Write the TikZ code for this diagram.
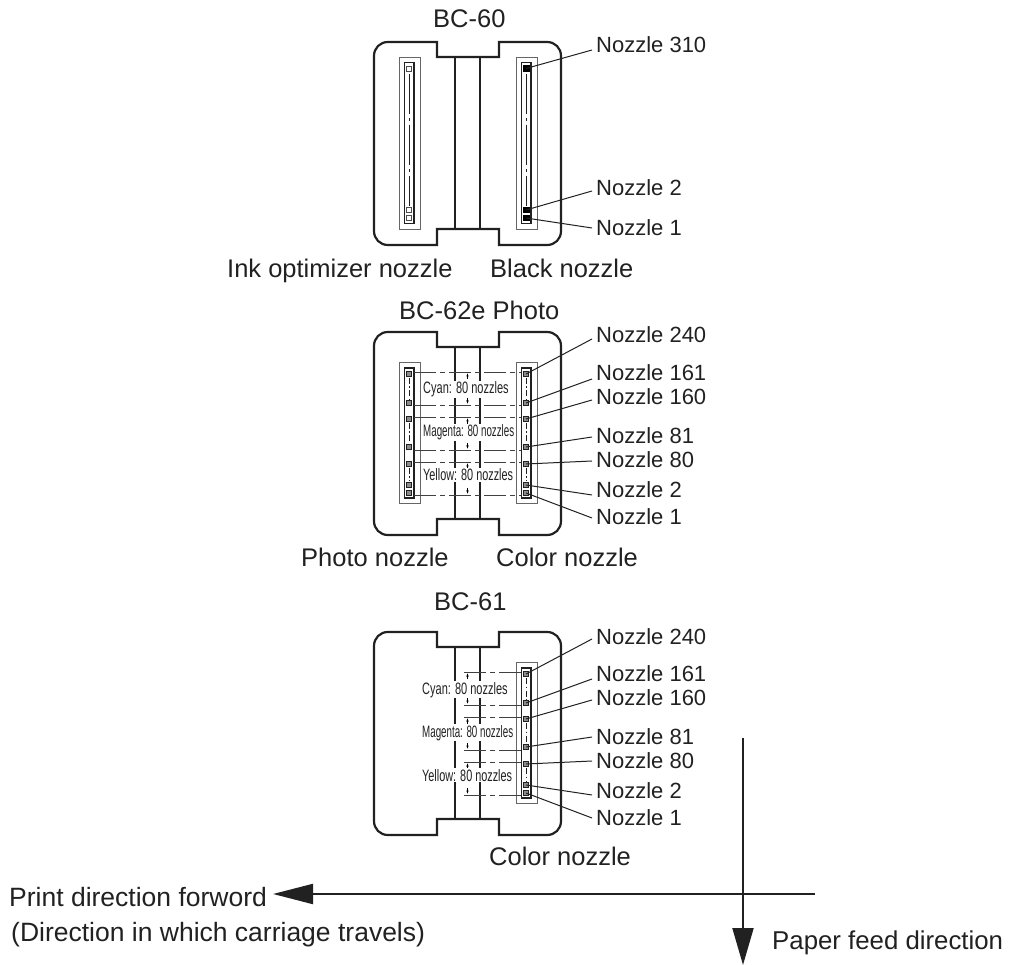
\documentclass[tikz,border=0pt]{standalone}
\usepackage{fontspec}
\setmainfont{Liberation Sans}
\usetikzlibrary{arrows.meta}
\definecolor{inkc}{gray}{0.13}
\tikzset{
  shell/.style={line width=2.2pt,draw=inkc},
  mid/.style={line width=1.3pt,draw=inkc},
  lead/.style={line width=1pt,draw=inkc},
  outerbox/.style={line width=.9pt,draw=black!60},
  innerbox/.style={line width=1.6pt,draw=inkc},
  cl/.style={line width=.8pt,draw=inkc,dash pattern=on 40pt off 4pt on 3pt off 4pt},
  cls/.style={line width=.8pt,draw=inkc,dash pattern=on 6pt off 2.5pt on 1.5pt off 2.5pt},
  hd/.style={line width=.9pt,draw=black!75,dash pattern=on 22pt off 4pt on 5pt off 4pt},
  lab/.style={inner sep=0pt,anchor=base west,text=inkc,font=\fontsize{22}{26}\selectfont},
  captxt/.style={inner sep=0pt,anchor=base west,text=inkc,font=\fontsize{25.5}{30}\selectfont},
  dirtxt/.style={inner sep=0pt,anchor=base west,text=inkc,font=\fontsize{26.5}{30}\selectfont},
  smalltxt/.style={inner sep=1pt,anchor=base west,fill=white,text=inkc,font=\fontsize{16.5}{18}\selectfont},
  nz/.style={draw=inkc,line width=.6pt,fill=black!45,minimum size=5pt,inner sep=0pt},
  nzb/.style={draw=black,line width=.5pt,fill=black,minimum size=5.5pt,inner sep=0pt},
  nzw/.style={draw=black!70,line width=.8pt,fill=white,minimum size=5pt,inner sep=0pt},
  ticka/.style={line width=.6pt,draw=black,-{Latex[length=3.5pt,width=2.5pt]}},
}
\newcommand{\shellat}[1]{%
  \draw[shell] (388,#1+42) .. controls (380,#1+42) and (374,#1+48) .. (374,#1+56) -- (374,#1+231)
    .. controls (374,#1+239) and (380,#1+245) .. (388,#1+245) -- (437,#1+245) -- (437,#1+229) -- (499,#1+229) -- (499,#1+245) -- (547,#1+245)
    .. controls (555,#1+245) and (561,#1+239) .. (561,#1+231) -- (561,#1+56)
    .. controls (561,#1+48) and (555,#1+42) .. (547,#1+42) -- (499,#1+42) -- (499,#1+57) -- (437,#1+57) -- (437,#1+42) -- cycle;
}
\begin{document}
\begin{tikzpicture}[x=1pt,y=-1pt]
\useasboundingbox (0,0) rectangle (1013,965);
% ---------- BC-60
\shellat{0}
\draw[mid] (455,57) -- (455,229) (480,57) -- (480,229);
\draw[outerbox] (399,57) rectangle (420,229) (516,57) rectangle (537,229);
\draw[innerbox] (404.5,62.5) rectangle (414,223.5) (521.5,62.5) rectangle (531,223.5);
\draw[cl] (409,74) -- (409,206);
\draw[cl] (526,74) -- (526,206);
\node[nzw] (a1) at (409,68.5) {};
\node[nzw] (a2) at (409,210) {};
\node[nzw] (a3) at (409,218) {};
\node[nzb] (b310) at (526,68.5) {};
\node[nzb] (b2) at (526,210) {};
\node[nzb] (b1) at (526,218) {};
\node[captxt] (t60) at (433,28) {BC-60};
\node[lab] (l310) at (596,53) {Nozzle 310};
\node[lab] (l2) at (596,196) {Nozzle 2};
\node[lab] (l1) at (596,236) {Nozzle 1};
\coordinate (e310) at (592,50);\coordinate (e2) at (592,191);\coordinate (e1) at (592,228);
\draw[lead] (b310.center) -- (e310) (b2.center) -- (e2) (b1.center) -- (e1);
\node[captxt] (cInk) at (227,278) {Ink optimizer nozzle};
\node[captxt] (cBlk) at (490,278) {Black nozzle};
% ---------- BC-62e
\shellat{290}
\draw[mid] (455,347) -- (455,519) (480,347) -- (480,519);
\draw[outerbox] (399,362) rectangle (420,503) (516,362) rectangle (537,503);
\draw[innerbox] (404.5,368) rectangle (414,498) (521.5,368) rectangle (531,498);
\foreach \y/\z in {378/400,423/443,468/481}{
  \draw[cls] (409,\y) -- (409,\z);
  \draw[cls] (526,\y) -- (526,\z);
}
\foreach \y in {372,405,417,450,462,495}{
  \draw[hd] (414,\y) -- (521,\y);
}
\foreach \y/\s in {372/1,405/-1,417/1,450/-1,462/1,495/-1}{
  \draw[ticka] (467.5,\y+\s*7) -- (467.5,\y+\s*1);
}
\foreach \n/\y in {1/374,2/403,3/419,4/447,5/464,6/485,7/493}{
  \node[nz] (p\n) at (409,\y) {};
  \node[nz] (q\n) at (526,\y) {};
}
\node[smalltxt] (s1) at (422,394) {\scalebox{.667}[1]{Cyan: 80 nozzles}};
\node[smalltxt] (s2) at (422,437) {\scalebox{.592}[1]{Magenta: 80 nozzles}};
\node[smalltxt] (s3) at (422,481) {\scalebox{.658}[1]{Yellow: 80 nozzles}};
\node[captxt] (t62) at (399,320) {BC-62e Photo};
\foreach \n/\t/\y/\e in {1/240/343/339,2/161/381/379,3/160/405/400,4/81/444/437,5/80/468/461,6/2/498/495,7/1/525/518}{
  \node[lab] (m\n) at (596,\y) {Nozzle \t};
  \coordinate (f\n) at (592,\e);
  \draw[lead] (q\n.center) -- (f\n);
}
\node[captxt] (cPh) at (301,567) {Photo nozzle};
\node[captxt] (cCo) at (496,567) {Color nozzle};
% ---------- BC-61
\shellat{590}
\draw[mid] (455,647) -- (455,819) (480,647) -- (480,819);
\draw[outerbox] (516,662) rectangle (537,803);
\draw[innerbox] (521.5,668) rectangle (531,798);
\foreach \y/\z in {678/700,723/743,768/781}{
  \draw[cls] (526,\y) -- (526,\z);
}
\foreach \y in {672,705,717,750,762,795}{
  \draw[hd] (464,\y) -- (521,\y);
}
\foreach \y/\s in {672/1,705/-1,717/1,750/-1,762/1,795/-1}{
  \draw[ticka] (467.5,\y+\s*7) -- (467.5,\y+\s*1);
}
\foreach \n/\y in {1/674,2/703,3/719,4/747,5/764,6/785,7/793}{
  \node[nz] (r\n) at (526,\y) {};
}
\node[smalltxt] (u1) at (421,694) {\scalebox{.667}[1]{Cyan: 80 nozzles}};
\node[smalltxt] (u2) at (421,737) {\scalebox{.592}[1]{Magenta: 80 nozzles}};
\node[smalltxt] (u3) at (421,781) {\scalebox{.658}[1]{Yellow: 80 nozzles}};
\node[captxt] (t61) at (434,610) {BC-61};
\foreach \n/\t/\y/\e in {1/240/644/639,2/161/681/679,3/160/705/700,4/81/744/737,5/80/768/761,6/2/798/795,7/1/825/818}{
  \node[lab] (w\n) at (596,\y) {Nozzle \t};
  \coordinate (g\n) at (592,\e);
  \draw[lead] (r\n.center) -- (g\n);
}
\node[captxt] (cC3) at (489,865) {Color nozzle};
% ---------- directions
\node[dirtxt] (pf) at (9,906) {Print direction forword};
\node[dirtxt] (pd) at (11,941) {(Direction in which carriage travels)};
\node[captxt,font=\fontsize{25.8}{30}\selectfont] (pp) at (772,949) {Paper feed direction};
\coordinate (hs) at (815,894);\coordinate (ht) at (273,894);
\coordinate (vs) at (743,738);\coordinate (vt) at (743,965);
\draw[line width=2pt,draw=inkc,-{Triangle[length=40pt,width=20pt]}] (hs) -- (ht);
\draw[line width=2pt,draw=inkc,-{Triangle[length=37pt,width=21pt]}] (vs) -- (vt);
\end{tikzpicture}
\end{document}
